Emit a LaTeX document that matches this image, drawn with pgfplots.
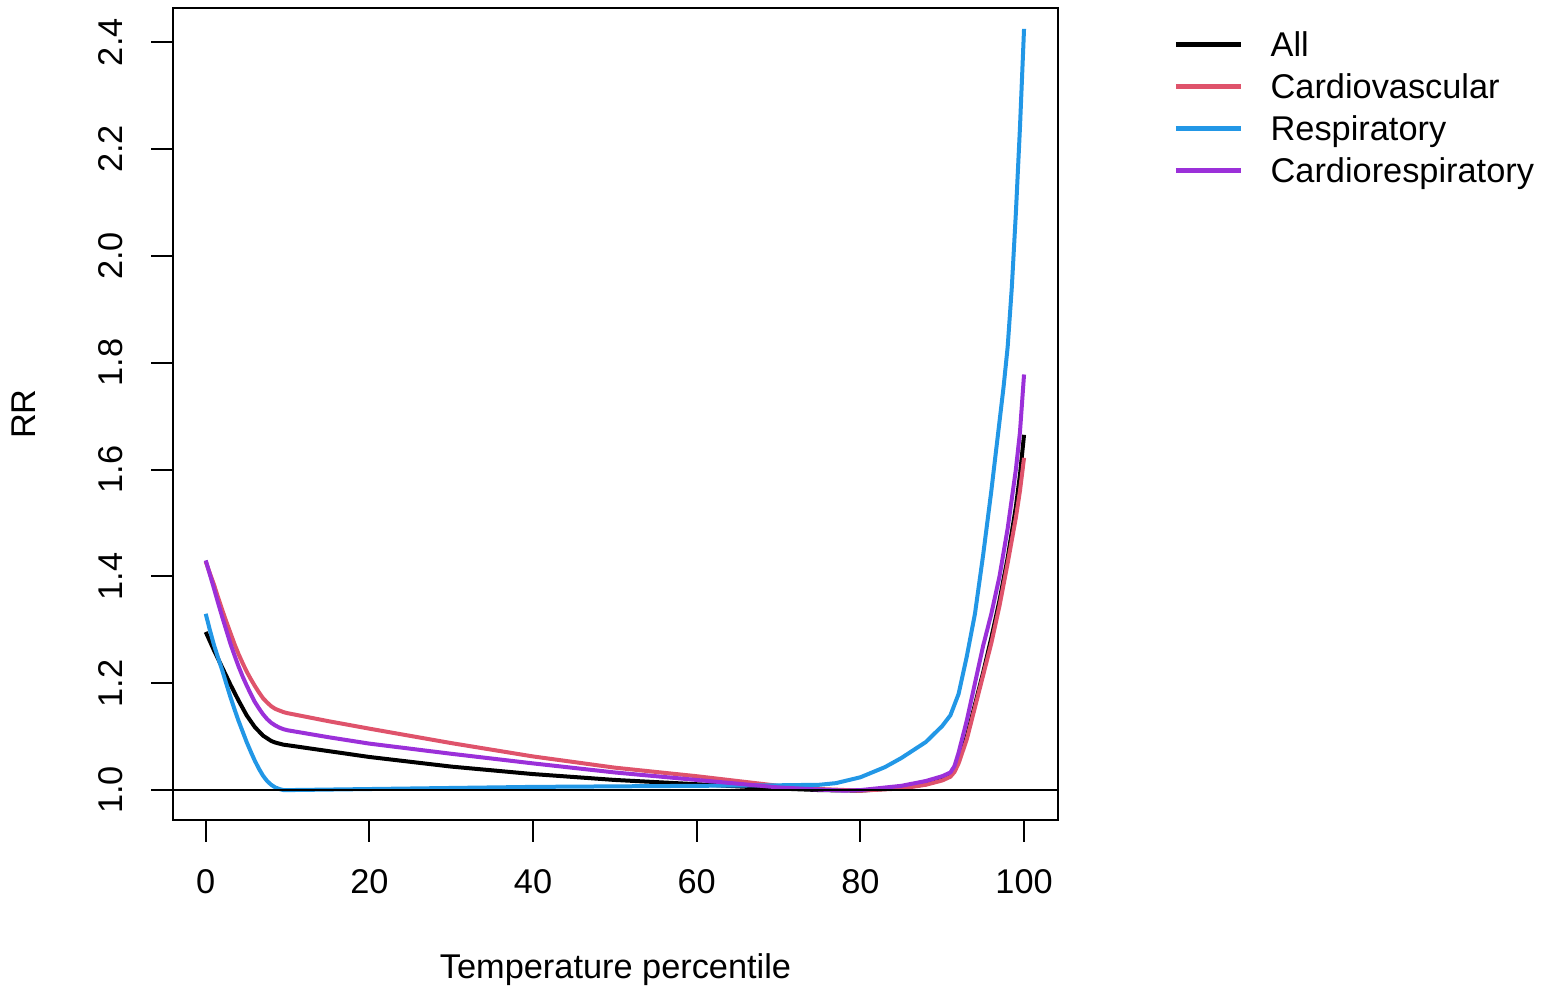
\documentclass[border=0pt]{standalone}
\usepackage{fontspec}
\setmainfont{Liberation Sans}
\usepackage{pgfplots}
\pgfplotsset{compat=1.18}

\definecolor{rred}{HTML}{DF536B}
\definecolor{rblue}{HTML}{2297E6}
\definecolor{rpurple}{HTML}{9B30D9}

\begin{document}
\fontsize{10.3}{12.4}\selectfont
\begin{tikzpicture}
\begin{axis}[
    name=main,
    scale only axis,
    width=265.5pt, height=243.6pt,
    xmin=-4, xmax=104.15,
    ymin=0.944, ymax=2.464,
    axis line style={line width=0.6pt},
    every tick/.style={line width=0.6pt, black},
    tick align=outside,
    tick pos=left,
    major tick length=6.5pt,
    xtick={0,20,...,100},
    ytick={1.0,1.2,1.4,1.6,1.8,2.0,2.2,2.4},
    yticklabel={\pgfmathprintnumber[fixed,fixed zerofill,precision=1]{\tick}},
    /pgf/number format/assume math mode=true,
    ticklabel style={font=\fontsize{10.3}{12.4}\selectfont, inner sep=0pt},
    xticklabel style={anchor=north},
    yticklabel style={rotate=90, anchor=south},
    xticklabel shift=8.2pt,
    yticklabel shift=8.4pt,
    xlabel={Temperature percentile},
    ylabel={RR},
    xlabel style={at={(axis description cs:0.5,0)}, anchor=center, yshift=-45pt},
    ylabel style={at={(axis description cs:0,0.5)}, anchor=center, rotate=0, yshift=44.7pt},
    label style={font=\fontsize{10.3}{12.4}\selectfont},
    legend style={
        at={(rel axis cs:1,1)}, anchor=north west,
        xshift=34.4pt, yshift=-5.4pt,
        draw=none, fill=none, inner sep=0pt,
        column sep=8.2pt, row sep=0pt,
        font=\fontsize{10.3}{12.4}\selectfont,
        nodes={inner sep=0pt, text height=9pt, text depth=3.6pt},
    },
    legend cell align=left,
    legend image code/.code={\draw[#1, line width=1.5pt] (0pt,1pt) -- (19.5pt,1pt);},
    every axis plot/.append style={line width=1.2pt, line join=round},
]
\addplot[black] coordinates {
(0,1.296) (0.5,1.279) (1,1.262) (1.5,1.246) (2,1.230) (2.5,1.214) (3,1.198)
(3.5,1.183) (4,1.168) (4.5,1.154) (5,1.140) (5.5,1.129) (6,1.118) (6.5,1.110)
(7,1.102) (7.5,1.097) (8,1.092) (8.5,1.089) (9,1.087) (9.5,1.085) (10,1.084)
(15,1.073) (20,1.062) (30,1.044) (40,1.030) (50,1.019) (60,1.011) (70,1.003)
(75,1.000) (80,0.999) (85,1.004) (88,1.011) (90,1.020) (91,1.028) (91.5,1.038)
(92,1.055) (93,1.100) (94,1.160) (95,1.220) (96,1.285) (97,1.355) (98,1.435)
(99,1.530) (99.5,1.590) (100,1.665)
};
\addlegendentry{All}
\addplot[rred] coordinates {
(0,1.428) (0.5,1.406) (1,1.385) (1.5,1.361) (2,1.338) (2.5,1.316) (3,1.295)
(3.5,1.274) (4,1.255) (4.5,1.238) (5,1.222) (5.5,1.208) (6,1.195) (6.5,1.183)
(7,1.172) (7.5,1.164) (8,1.157) (8.5,1.152) (9,1.149) (9.5,1.146) (10,1.144)
(15,1.129) (20,1.115) (30,1.088) (40,1.063) (50,1.042) (60,1.026) (70,1.008)
(75,1.002) (80,0.999) (85,1.003) (88,1.010) (90,1.018) (91,1.025) (91.5,1.034)
(92,1.050) (93,1.095) (94,1.155) (95,1.215) (96,1.275) (97,1.345) (98,1.425)
(99,1.510) (99.5,1.560) (100,1.622)
};
\addlegendentry{Cardiovascular}
\addplot[rblue] coordinates {
(0,1.330) (0.5,1.300) (1,1.272) (1.5,1.248) (2,1.225) (2.5,1.200) (3,1.175)
(3.5,1.152) (4,1.130) (4.5,1.110) (5,1.090) (5.5,1.072) (6,1.055) (6.5,1.040)
(7,1.027) (7.5,1.017) (8,1.010) (8.5,1.005) (9,1.002) (9.5,1.000) (10,1.000)
(15,1.001) (20,1.002) (30,1.004) (40,1.006) (50,1.007) (60,1.008) (70,1.009)
(75,1.010) (77,1.013) (80,1.024) (83,1.043) (85,1.060) (88,1.090) (90,1.120)
(91,1.140) (92,1.180) (93,1.250) (94,1.330) (95,1.440) (96,1.560) (97,1.690)
(97.5,1.755) (98,1.830) (98.5,1.940) (99,2.080) (99.5,2.240) (100,2.425)
};
\addlegendentry{Respiratory}
\addplot[rpurple] coordinates {
(0,1.430) (0.5,1.404) (1,1.378) (1.5,1.351) (2,1.325) (2.5,1.300) (3,1.275)
(3.5,1.253) (4,1.232) (4.5,1.213) (5,1.196) (5.5,1.180) (6,1.165) (6.5,1.153)
(7,1.142) (7.5,1.133) (8,1.126) (8.5,1.121) (9,1.117) (9.5,1.114) (10,1.112)
(15,1.099) (20,1.087) (30,1.068) (40,1.050) (50,1.033) (60,1.019) (70,1.005)
(75,1.001) (78,0.999) (80,1.000) (85,1.008) (88,1.017) (90,1.026) (91,1.033)
(91.5,1.045) (92,1.070) (93,1.130) (94,1.200) (95,1.270) (96,1.330) (97,1.400)
(98,1.490) (98.5,1.545) (99,1.600) (99.5,1.670) (100,1.778)
};
\addlegendentry{Cardiorespiratory}
\draw[line width=0.6pt, black] (axis cs:-4,1) -- (axis cs:104.15,1);
\end{axis}
\pgfresetboundingbox
\path (main.south west) ++(-51.9pt,-49.5pt) coordinate (bbA);
\path (main.south west) ++(410.4pt,246pt) coordinate (bbB);
\useasboundingbox (bbA) rectangle (bbB);
\end{tikzpicture}
\end{document}
